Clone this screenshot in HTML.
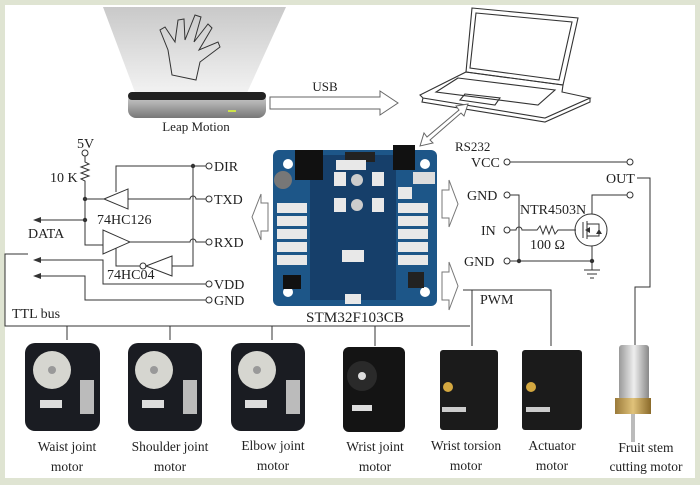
<!DOCTYPE html>
<html><head><meta charset="utf-8"><style>
html,body{margin:0;padding:0;background:#dfe4d2;}
svg{display:block;}
text{font-family:"Liberation Serif",serif;fill:#222;}
</style></head><body>
<svg width="700" height="485" viewBox="0 0 700 485" xmlns="http://www.w3.org/2000/svg">
<defs>
<linearGradient id="cone" x1="0" y1="0" x2="0" y2="1"><stop offset="0" stop-color="#c9c9c9"/><stop offset="1" stop-color="#f3f3f3"/></linearGradient>
<linearGradient id="silver" x1="0" y1="0" x2="0" y2="1"><stop offset="0" stop-color="#d8d8d8"/><stop offset=".5" stop-color="#aaa"/><stop offset="1" stop-color="#777"/></linearGradient>
<linearGradient id="brass" x1="0" y1="0" x2="1" y2="0"><stop offset="0" stop-color="#9a7a3a"/><stop offset=".5" stop-color="#e0c27a"/><stop offset="1" stop-color="#8a6a2a"/></linearGradient>
<linearGradient id="can" x1="0" y1="0" x2="1" y2="0"><stop offset="0" stop-color="#999"/><stop offset=".5" stop-color="#eee"/><stop offset="1" stop-color="#888"/></linearGradient>
</defs>
<rect x="5" y="5" width="690" height="473" fill="#fff"/>
<!-- Leap cone -->
<polygon points="103,7 286,7 246,95 136,95" fill="url(#cone)"/>
<path d="M172,75 L168,50 L160,30 L165,27 L175,42 L178,20 L184,19 L185,40 L195,15 L201,17 L194,42 L208,24 L212,28 L199,50 L218,42 L220,47 L200,62 L196,80 Z" fill="none" stroke="#333" stroke-width="1"/>
<rect x="128" y="92" width="138" height="26" rx="8" fill="url(#silver)"/>
<rect x="128" y="92" width="138" height="8" rx="4" fill="#222"/>
<rect x="228" y="110" width="8" height="2" fill="#cde24a"/>
<text x="196" y="131" font-size="13" text-anchor="middle">Leap Motion</text>
<!-- USB arrow -->
<polygon points="270,97 380,97 380,91 398,103 380,115 380,109 270,109" fill="#fff" stroke="#666" stroke-width="1"/>
<text x="325" y="91" font-size="13" text-anchor="middle">USB</text>
<!-- Laptop -->
<g fill="none" stroke="#333" stroke-width="1.1">
<polygon points="472,8 578,18 563,85 466,72"/>
<polygon points="476,13 572,22 559,80 470,68"/>
<polygon points="466,72 563,85 562,92 590,98 545,118 423,98 420,95"/>
<polygon points="458,78 555,90 538,105 436,92"/>
<polygon points="465,94 500,98 495,105 460,100"/>
<path d="M423,98 L422,102 L545,122 L590,102 L590,98"/>
</g>
<!-- RS232 arrow -->
<polygon points="420,146 424,133 427,137 459,110 456,106 468,104 464,116 461,113 430,140 433,143" fill="#fff" stroke="#666" stroke-width="1"/>
<text x="455" y="151" font-size="13">RS232</text>
<!-- Board -->
<rect x="273" y="150" width="164" height="156" rx="6" fill="#1d5688"/>
<rect x="310" y="155" width="86" height="145" fill="#163f6a"/>
<g fill="#fff"><circle cx="288" cy="164" r="5"/><circle cx="425" cy="164" r="5"/><circle cx="288" cy="292" r="5"/><circle cx="425" cy="292" r="5"/></g>
<rect x="295" y="150" width="28" height="30" fill="#111"/>
<rect x="393" y="145" width="22" height="25" fill="#111"/>
<rect x="345" y="152" width="30" height="10" fill="#222"/>
<rect x="413" y="172" width="22" height="12" fill="#ddd"/>
<circle cx="283" cy="180" r="9" fill="#777"/>
<g fill="#e8e8e8">
<rect x="277" y="203" width="30" height="10"/><rect x="277" y="216" width="30" height="10"/><rect x="277" y="229" width="30" height="10"/><rect x="277" y="242" width="30" height="10"/><rect x="277" y="255" width="30" height="10"/>
<rect x="398" y="203" width="30" height="10"/><rect x="398" y="216" width="30" height="10"/><rect x="398" y="229" width="30" height="10"/><rect x="398" y="242" width="30" height="10"/><rect x="398" y="255" width="30" height="10"/>
<rect x="398" y="187" width="14" height="12"/><rect x="336" y="160" width="30" height="10"/>
<rect x="334" y="172" width="12" height="14"/><rect x="372" y="172" width="12" height="14"/><rect x="334" y="198" width="12" height="14"/><rect x="372" y="198" width="12" height="14"/>
<rect x="342" y="250" width="22" height="12"/><rect x="345" y="294" width="16" height="10"/>
</g>
<circle cx="357" cy="180" r="6" fill="#ccc"/><circle cx="357" cy="205" r="6" fill="#ccc"/>
<rect x="283" y="275" width="18" height="14" fill="#111"/><rect x="408" y="272" width="16" height="16" fill="#222"/>
<text x="355" y="322" font-size="15" text-anchor="middle" textLength="98" lengthAdjust="spacingAndGlyphs">STM32F103CB</text>
<!-- hollow arrows -->
<polygon points="268,203 261,203 261,194 252,217 261,240 261,231 268,231" fill="#fff" stroke="#777"/>
<polygon points="442,190 449,190 449,180 458,204 449,227 449,218 442,218" fill="#fff" stroke="#777"/>
<polygon points="442,272 449,272 449,262 458,286 449,310 449,300 442,300" fill="#fff" stroke="#777"/>
<!-- left circuit -->
<g fill="none" stroke="#333" stroke-width="1">
<circle cx="85" cy="153" r="3"/>
<path d="M85,156 L85,162 L89,164 L81,167 L89,170 L81,173 L89,176 L81,179 L85,181 L85,245 L103,245"/>
<path d="M85,199 L104,199"/>
<polygon points="104,199 128,189 128,209"/>
<path d="M128,199 L190,199 A3,3 0 0 1 196,199 L206,199"/>
<circle cx="209" cy="199" r="3"/>
<path d="M116,192 L116,166 L206,166"/><circle cx="209" cy="166" r="3"/>
<path d="M193,166 L193,266 L172,266"/>
<polygon points="103,230 103,254 130,242"/>
<path d="M130,242 L190,242 A3,3 0 0 1 196,242 L206,242"/><circle cx="209" cy="242" r="3"/>
<path d="M116,248 L116,266 L140,266"/>
<polygon points="172,256 172,276 146,266"/><circle cx="143" cy="266" r="3"/>
<path d="M206,284 L103,284 L103,260 L38,260"/><circle cx="209" cy="284" r="3"/>
<path d="M206,300 L85,300 L85,276 L38,276"/><circle cx="209" cy="300" r="3"/>
<path d="M85,220 L38,220"/>
<path d="M28,254 L5,254 L5,326 L470,326"/>
<path d="M67,326 L67,340 M170,326 L170,340 M272,326 L272,340 M375,326 L375,346"/>
</g>
<g fill="#333"><circle cx="85" cy="199" r="2.2"/><circle cx="85" cy="220" r="2.2"/><circle cx="193" cy="166" r="2.2"/>
<polygon points="33,220 41,217 41,223"/><polygon points="33,260 41,257 41,263"/><polygon points="33,276 41,273 41,279"/></g>
<g font-size="14">
<text x="77" y="148">5V</text><text x="50" y="182">10 K</text>
<text x="214" y="171">DIR</text><text x="214" y="204">TXD</text><text x="214" y="247">RXD</text>
<text x="214" y="289">VDD</text><text x="214" y="305">GND</text>
<text x="97" y="224">74HC126</text><text x="107" y="279">74HC04</text>
<text x="28" y="238">DATA</text><text x="12" y="318">TTL bus</text>
</g>
<!-- right circuit -->
<g fill="none" stroke="#333" stroke-width="1">
<circle cx="507" cy="162" r="3"/><path d="M510,162 L627,162"/><circle cx="630" cy="162" r="3"/>
<circle cx="507" cy="195" r="3"/><path d="M510,195 L519,195 L519,261"/>
<circle cx="630" cy="195" r="3"/><path d="M627,195 L592,195 L592,214"/>
<circle cx="507" cy="230" r="3"/><path d="M510,230 L516,230 A3,3 0 0 1 522,230 L537,230 L540,226 L543,234 L546,226 L549,234 L552,226 L555,234 L558,230 L576,230"/>
<circle cx="591" cy="230" r="16"/>
<path d="M583,222 L583,238 M587,221 L587,239 M587,224 L599,224 L599,236 L587,236 M592,246 L592,261"/>
<circle cx="507" cy="261" r="3"/><path d="M510,261 L592,261 L592,270 M584,270 L600,270 M587,274 L597,274 M590,278 L594,278"/>
<path d="M637,178 L650,178 L650,287 L635,287 L635,346"/>
<path d="M463,290 L551,290 L551,346 M472,290 L472,346"/>
</g>
<g fill="#333"><circle cx="519" cy="261" r="2.2"/><circle cx="592" cy="261" r="2.2"/><polygon points="585,230 590,227 590,233"/><polygon points="599,229 596,234 602,234"/></g>
<g font-size="14">
<text x="471" y="167">VCC</text><text x="467" y="200">GND</text><text x="481" y="235">IN</text><text x="464" y="266">GND</text>
<text x="606" y="183">OUT</text><text x="520" y="214">NTR4503N</text><text x="530" y="249">100 Ω</text><text x="480" y="304">PWM</text>
</g>
<!-- Dynamixel MX motors -->
<g>
<rect x="25" y="343" width="75" height="88" rx="10" fill="#1a1c22"/><rect x="80" y="380" width="14" height="34" fill="#bbb"/>
<circle cx="52" cy="370" r="19" fill="#d6d6d0"/><circle cx="52" cy="370" r="4" fill="#999"/><rect x="40" y="400" width="22" height="8" fill="#ddd"/>
<rect x="128" y="343" width="74" height="88" rx="10" fill="#1a1c22"/><rect x="183" y="380" width="14" height="34" fill="#bbb"/>
<circle cx="154" cy="370" r="19" fill="#d6d6d0"/><circle cx="154" cy="370" r="4" fill="#999"/><rect x="142" y="400" width="22" height="8" fill="#ddd"/>
<rect x="231" y="343" width="74" height="88" rx="10" fill="#1a1c22"/><rect x="286" y="380" width="14" height="34" fill="#bbb"/>
<circle cx="257" cy="370" r="19" fill="#d6d6d0"/><circle cx="257" cy="370" r="4" fill="#999"/><rect x="245" y="400" width="22" height="8" fill="#ddd"/>
<rect x="343" y="347" width="62" height="85" rx="6" fill="#141414"/><circle cx="362" cy="376" r="15" fill="#2a2a2a"/><circle cx="362" cy="376" r="4" fill="#ddd"/><rect x="352" y="405" width="20" height="6" fill="#ddd"/>
<rect x="440" y="350" width="58" height="80" rx="3" fill="#1b1b1b"/><rect x="442" y="356" width="12" height="6" fill="#1b1b1b"/><circle cx="448" cy="387" r="5" fill="#d4a840"/><rect x="442" y="407" width="24" height="5" fill="#ccc"/>
<rect x="522" y="350" width="60" height="80" rx="3" fill="#1b1b1b"/><circle cx="531" cy="387" r="5" fill="#d4a840"/><rect x="526" y="407" width="24" height="5" fill="#ccc"/>
<rect x="619" y="345" width="30" height="55" rx="3" fill="url(#can)"/><rect x="615" y="398" width="36" height="16" fill="url(#brass)"/><rect x="631" y="414" width="4" height="28" fill="#bbb"/>
</g>
<g font-size="13.5" text-anchor="middle">
<text x="67" y="451">Waist joint</text><text x="67" y="471">motor</text>
<text x="170" y="451">Shoulder joint</text><text x="170" y="471">motor</text>
<text x="273" y="450">Elbow joint</text><text x="273" y="470">motor</text>
<text x="375" y="451">Wrist joint</text><text x="375" y="471">motor</text>
<text x="466" y="450">Wrist torsion</text><text x="466" y="470">motor</text>
<text x="552" y="450">Actuator</text><text x="552" y="470">motor</text>
<text x="646" y="452">Fruit stem</text><text x="646" y="471">cutting motor</text>
</g>
</svg>
</body></html>
